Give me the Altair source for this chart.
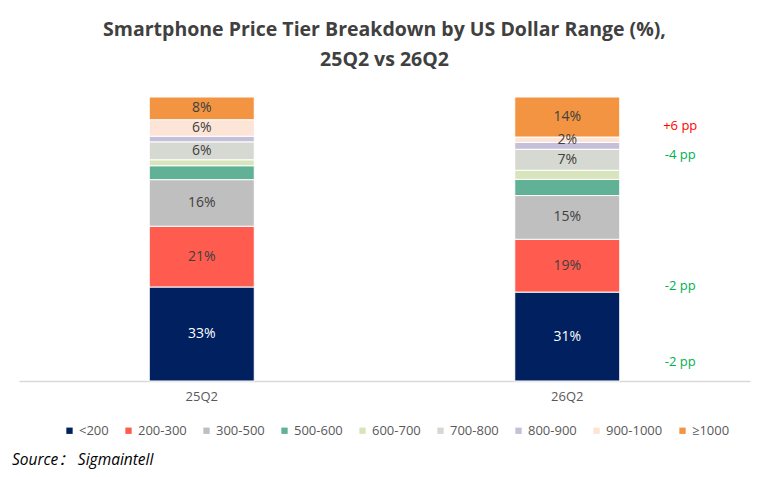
import altair as alt
import pandas as pd

quarters = ["25Q2", "26Q2"]
tiers = ["<200", "200-300", "300-500", "500-600", "600-700", "700-800", "800-900", "900-1000", "≥1000"]
share_25q2 = [33.1, 21.4, 16.4, 4.9, 2.1, 6.3, 2.0, 5.8, 8.0]
share_26q2 = [31.3, 18.6, 15.4, 5.7, 3.2, 7.4, 2.4, 1.9, 14.1]
labeled_tiers = ["<200", "200-300", "300-500", "700-800", "900-1000", "≥1000"]
tier_colors = ["#002060", "#FF5B4F", "#BFBFBF", "#60B195", "#D8E4BC", "#D6D8D2", "#C5BFD9", "#FCE4D6", "#F29441"]

ann_text = ["+6 pp", "-4 pp", "-2 pp", "-2 pp"]
ann_y = [89.7, 79.5, 33.4, 6.7]

rows = []
for q, vals in zip(quarters, [share_25q2, share_26q2]):
    for i, (t, v) in enumerate(zip(tiers, vals)):
        rows.append({"quarter": q, "tier": t, "idx": i, "value": v,
                     "show": t in labeled_tiers})
df = pd.DataFrame(rows)
ann = pd.DataFrame({"text": ann_text, "y": ann_y})
src = pd.DataFrame({"t": ["Source：  Sigmaintell"]})

FONT = "Open Sans"

x_enc = alt.X("quarter:N", sort=quarters, title=None,
              axis=alt.Axis(labelAngle=0, ticks=False, domainColor="#D9D9D9",
                            domainWidth=1.5, labelFontSize=13, labelColor="#595959",
                            labelFont=FONT, labelPadding=9),
              scale=alt.Scale(paddingInner=0, paddingOuter=0))
y_scale = alt.Scale(domain=[0, 100])

bars = alt.Chart(df).mark_bar(size=105, stroke="white", strokeWidth=1).encode(
    x=x_enc,
    y=alt.Y("value:Q", stack="zero", scale=y_scale, axis=None),
    color=alt.Color("tier:N", sort=tiers,
                    scale=alt.Scale(domain=tiers, range=tier_colors),
                    legend=alt.Legend(title=None, orient="none", direction="horizontal",
                                      legendX=44, legendY=327, symbolType="square",
                                      symbolSize=40, symbolStrokeWidth=0,
                                      labelFontSize=13, labelColor="#595959",
                                      labelFont=FONT, columnPadding=13,
                                      symbolOffset=0, labelOffset=3)),
    order=alt.Order("idx:Q", sort="ascending"),
)

labels = alt.Chart(df).transform_window(
    cum="sum(value)", sort=[alt.SortField("idx", order="ascending")],
    groupby=["quarter"], frame=[None, 0]
).transform_calculate(
    mid="datum.cum - datum.value / 2",
    lab="round(datum.value) + '%'"
).transform_filter(alt.datum.show).mark_text(
    fontSize=14, font=FONT, baseline="middle"
).encode(
    x=alt.X("quarter:N", sort=quarters),
    y=alt.Y("mid:Q", scale=y_scale),
    text="lab:N",
    color=alt.condition(alt.datum.tier == "<200", alt.value("white"), alt.value("#404040")),
)

annots = alt.Chart(ann).mark_text(fontSize=13, font=FONT, dx=113, baseline="middle").encode(
    x=alt.datum("26Q2"),
    y=alt.Y("y:Q", scale=y_scale),
    text="text:N",
    color=alt.condition("indexof(datum.text, '+') == 0", alt.value("#FF0000"), alt.value("#00B050")),
)

source = alt.Chart(src).mark_text(fontSize=15.5, font=FONT + ", Noto Sans CJK SC", fontStyle="italic",
                                  align="left", baseline="middle", color="black").encode(
    x=alt.value(-7), y=alt.value(363), text="t:N")

chart = alt.layer(bars, labels, annots, source).properties(
    width=731, height=284,
    title=alt.TitleParams(
        text=["Smartphone Price Tier Breakdown by US Dollar Range (%),", "25Q2 vs 26Q2"],
        font=FONT, fontSize=19.5, fontWeight="bold", color="#404040",
        anchor="middle", lineHeight=30, offset=26),
    autosize=alt.AutoSizeParams(type="none"),
    padding={"left": 11, "top": 89, "right": 6, "bottom": 90},
).configure_view(stroke=None)

chart.save("out.html", embed_options={"renderer": "svg", "actions": False})
